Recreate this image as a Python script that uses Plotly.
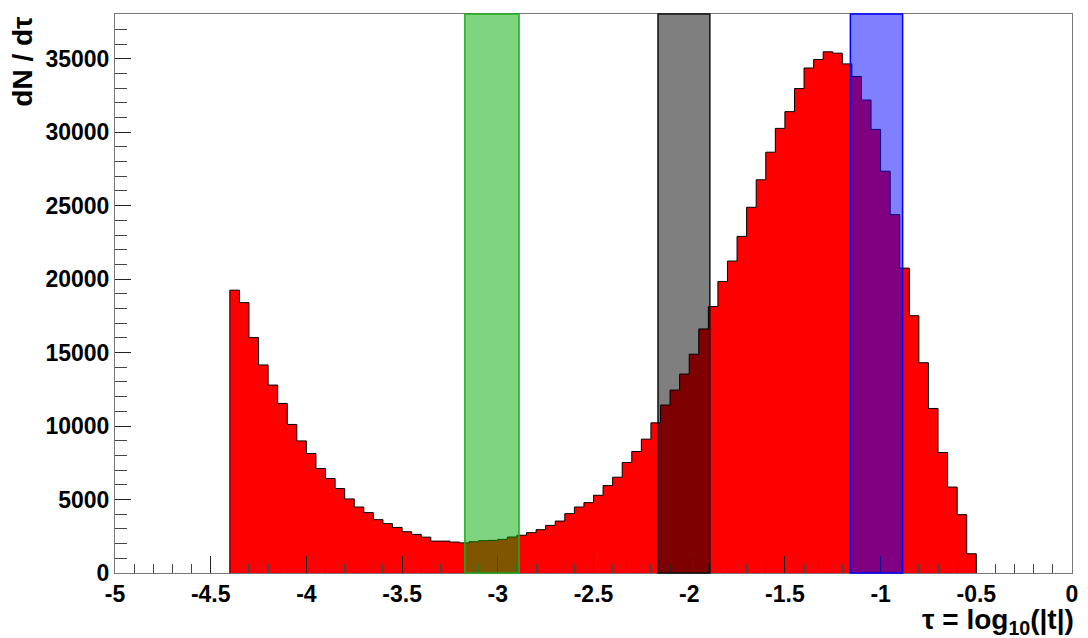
import plotly.graph_objects as go

# ---------------- data ----------------
bin_start = -4.4
bin_width = 0.05
counts = [19250, 18400, 16020, 14160, 12790, 11540, 10110, 8990, 8130, 7110,
          6430, 5750, 5040, 4490, 4110, 3630, 3360, 3100, 2810, 2630,
          2440, 2170, 2170, 2105, 2050, 2130, 2200, 2220, 2290, 2450,
          2570, 2745, 2950, 3240, 3535, 4040, 4490, 4790, 5290, 5950,
          6520, 7520, 8270, 9110, 10220, 11430, 12450, 13540, 14890, 16610,
          18135, 19840, 21230, 22910, 24890, 26760, 28640, 30260, 31400, 32970,
          34370, 34950, 35470, 35380, 34650, 33790, 32190, 30190, 27345, 24390,
          20750, 17510, 14310, 11200, 8200, 5850, 3970, 1310]

band_lo = [-3.172, -2.163, -1.158]
band_hi = [-2.889, -1.892, -0.885]
band_fill = ["rgba(0,170,0,0.5)", "rgba(0,0,0,0.5)", "rgba(0,0,255,0.5)"]
band_line = ["#22aa22", "#111111", "#0000ff"]

x_tick_vals = [-5, -4.5, -4, -3.5, -3, -2.5, -2, -1.5, -1, -0.5, 0]
x_tick_text = ["-5", "-4.5", "-4", "-3.5", "-3", "-2.5", "-2", "-1.5", "-1", "-0.5", "0"]
y_tick_vals = [0, 5000, 10000, 15000, 20000, 25000, 30000, 35000]
y_tick_text = ["0", "5000", "10000", "15000", "20000", "25000", "30000", "35000"]

x_range = [-5, 0]
y_range = [0, 38045]

# ------------- build step outline -------------
n = len(counts)
edges = [bin_start + bin_width * i for i in range(n + 1)]
xs = [edges[0]] + edges[:-1] + [edges[-1], edges[-1]]
ys = [0] + counts + [counts[-1], 0]

fig = go.Figure()
fig.add_trace(go.Scatter(
    x=xs, y=ys, mode="lines", line=dict(shape="hv", color="black", width=1),
    fill="tozeroy", fillcolor="#ff0000", hoverinfo="skip", showlegend=False))

for lo, hi, fc, lc in zip(band_lo, band_hi, band_fill, band_line):
    fig.add_shape(type="rect", xref="x", yref="paper", x0=lo, x1=hi, y0=0, y1=1,
                  fillcolor=fc, line=dict(color=lc, width=1.5), layer="above")

font_fam = "Liberation Sans, Arial, sans-serif"
fig.update_layout(
    width=1088, height=638,
    margin=dict(l=115, r=10, t=14, b=65),
    paper_bgcolor="white", plot_bgcolor="white",
    showlegend=False,
    font=dict(family=font_fam, color="black"),
    xaxis=dict(range=x_range, tickvals=x_tick_vals, ticktext=x_tick_text,
               ticks="inside", ticklen=17, tickcolor="#222", tickwidth=1,
               minor=dict(ticks="inside", ticklen=9, dtick=0.1, tickcolor="#444"),
               showline=True, linecolor="#777", linewidth=1, mirror=True,
               showgrid=False, zeroline=False, ticklabelstandoff=0,
               tickfont=dict(size=23, family=font_fam, weight="bold", color="black")),
    yaxis=dict(range=y_range, tickvals=y_tick_vals, ticktext=y_tick_text,
               ticks="inside", ticklen=16, tickcolor="#222", tickwidth=1,
               minor=dict(ticks="inside", ticklen=12, dtick=1000, tickcolor="#444"),
               showline=True, linecolor="#777", linewidth=1, mirror=True,
               showgrid=False, zeroline=False,
               tickfont=dict(size=23, family=font_fam, weight="bold", color="black")),
)

fig.add_annotation(text="dN / dτ", xref="paper", yref="paper", x=-0.097, y=1.0,
                   xanchor="center", yanchor="top", textangle=-90, showarrow=False,
                   font=dict(size=28, family=font_fam, weight="bold", color="black"))
fig.add_annotation(text="τ = log<sub>10</sub>(|t|)", xref="paper", yref="paper",
                   x=1.004, y=-0.052, xanchor="right", yanchor="top", showarrow=False,
                   font=dict(size=28, family=font_fam, weight="bold", color="black"))

fig.write_html("out.html")
